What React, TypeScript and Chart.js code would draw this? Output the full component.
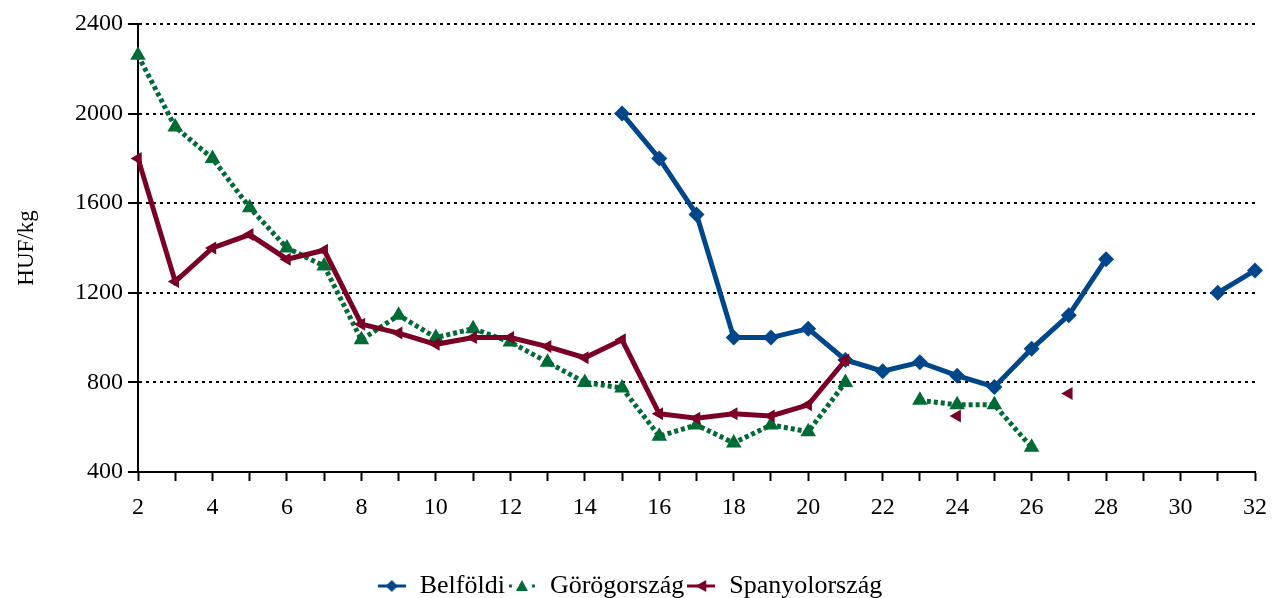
import React, { useEffect, useRef } from "react";
import { Chart, registerables } from "chart.js";

Chart.register(...registerables);

const weeks: string[] = [
  "2", "3", "4", "5", "6", "7", "8", "9", "10", "11", "12", "13", "14", "15", "16", "17",
  "18", "19", "20", "21", "22", "23", "24", "25", "26", "27", "28", "29", "30", "31", "32",
];

const belfoldi: (number | null)[] = [
  null, null, null, null, null, null, null, null, null, null, null, null, null,
  2000, 1800, 1550, 1000, 1000, 1040, 900, 850, 890, 830, 780, 950, 1100, 1350,
  null, null, 1200, 1300,
];

const gorogorszag: (number | null)[] = [
  2260, 1940, 1800, 1580, 1400, 1320, 990, 1100, 1000, 1040, 980, 890, 800, 775,
  560, 610, 530, 610, 580, 800, null, 720, 700, 700, 510,
  null, null, null, null, null, null,
];

const spanyolorszag: (number | null)[] = [
  1800, 1250, 1400, 1460, 1350, 1390, 1060, 1020, 970, 1000, 1000, 960, 910, 990,
  660, 640, 660, 650, 700, 900, null, null, 650, null, null, 750,
  null, null, null, null, null,
];

const yTicks: number[] = [400, 800, 1200, 1600, 2000, 2400];

const seriesNames = ["Belföldi", "Görögország", "Spanyolország"];
const BLUE = "#00468A";
const GREEN = "#006B35";
const RED = "#7A0025";
const FONT = "'Liberation Serif', 'Times New Roman', serif";

function legendIcon(kind: number): HTMLCanvasElement {
  const c = document.createElement("canvas");
  c.width = 28;
  c.height = 18;
  const ctx = c.getContext("2d")!;
  const cy = 9;
  if (kind === 0) {
    ctx.strokeStyle = BLUE;
    ctx.lineWidth = 3;
    ctx.beginPath();
    ctx.moveTo(0, cy);
    ctx.lineTo(28, cy);
    ctx.stroke();
    ctx.fillStyle = BLUE;
    ctx.beginPath();
    ctx.moveTo(14, cy - 6);
    ctx.lineTo(20, cy);
    ctx.lineTo(14, cy + 6);
    ctx.lineTo(8, cy);
    ctx.closePath();
    ctx.fill();
  } else if (kind === 1) {
    ctx.fillStyle = GREEN;
    ctx.fillRect(1, cy - 1.5, 3, 3);
    ctx.fillRect(24, cy - 1.5, 3, 3);
    ctx.beginPath();
    ctx.moveTo(14, cy - 6);
    ctx.lineTo(20, cy + 5);
    ctx.lineTo(8, cy + 5);
    ctx.closePath();
    ctx.fill();
  } else {
    ctx.strokeStyle = RED;
    ctx.lineWidth = 3;
    ctx.beginPath();
    ctx.moveTo(0, cy);
    ctx.lineTo(28, cy);
    ctx.stroke();
    ctx.fillStyle = RED;
    ctx.beginPath();
    ctx.moveTo(8, cy);
    ctx.lineTo(19, cy - 6);
    ctx.lineTo(19, cy + 6);
    ctx.closePath();
    ctx.fill();
  }
  return c;
}

const legendShift = {
  id: "legendShift",
  afterLayout(chart: any) {
    const l = chart.legend;
    if (l) {
      l.top += 11;
      l.bottom += 11;
    }
  },
};

export default function App() {
  const ref = useRef<HTMLCanvasElement | null>(null);

  useEffect(() => {
    if (!ref.current) return;
    Chart.defaults.font.family = FONT;
    Chart.defaults.color = "#000";
    const icons = [legendIcon(0), legendIcon(1), legendIcon(2)];
    const chart = new Chart(ref.current, {
      type: "line",
      plugins: [legendShift],
      data: {
        labels: weeks,
        datasets: [
          {
            label: seriesNames[0],
            data: belfoldi,
            borderColor: BLUE,
            backgroundColor: BLUE,
            borderWidth: 5,
            pointStyle: "rectRot",
            pointRadius: 8,
            pointBorderWidth: 0,
            spanGaps: false,
            order: 3,
          },
          {
            label: seriesNames[1],
            data: gorogorszag,
            borderColor: GREEN,
            backgroundColor: GREEN,
            borderWidth: 5,
            borderDash: [4, 3],
            pointStyle: "triangle",
            pointRadius: 9,
            pointBorderWidth: 0,
            spanGaps: false,
            order: 2,
          },
          {
            label: seriesNames[2],
            data: spanyolorszag,
            borderColor: RED,
            backgroundColor: RED,
            borderWidth: 5,
            pointStyle: "triangle",
            pointRotation: -90,
            pointRadius: 7.5,
            pointBorderWidth: 0,
            spanGaps: false,
            order: 1,
          },
        ],
      },
      options: {
        animation: false,
        responsive: true,
        maintainAspectRatio: false,
        layout: { padding: { top: 24, right: 20, left: 0, bottom: 0 } },
        plugins: {
          tooltip: { enabled: false },
          legend: {
            position: "bottom",
            labels: {
              usePointStyle: true,
              pointStyleWidth: 30,
              padding: 2,
              font: { size: 26, family: FONT },
              color: "#000",
              generateLabels: (ch: any) =>
                ch.data.datasets.map((ds: any, i: number) => ({
                  text: ds.label,
                  pointStyle: icons[i],
                  rotation: 0,
                  fillStyle: ds.borderColor,
                  strokeStyle: ds.borderColor,
                  lineWidth: 0,
                  hidden: false,
                  datasetIndex: i,
                  fontColor: "#000",
                })),
            },
          },
        },
        scales: {
          x: {
            type: "category",
            offset: false,
            grid: {
              drawOnChartArea: false,
              drawTicks: true,
              tickLength: 9,
              tickColor: "#000",
              tickWidth: 2,
            },
            border: { display: true, color: "#000", width: 2 },
            ticks: {
              autoSkip: false,
              maxRotation: 0,
              padding: 12,
              font: { size: 24, family: FONT },
              color: "#000",
              callback: (_v: any, i: number) => (i % 2 === 0 ? weeks[i] : ""),
            },
            afterFit: (s: any) => {
              s.height = 88;
            },
          },
          y: {
            min: 400,
            max: 2400,
            afterBuildTicks: (s: any) => {
              s.ticks = yTicks.map((v) => ({ value: v }));
            },
            grid: {
              color: "#000",
              lineWidth: 2,
              drawTicks: true,
              tickLength: 10,
              tickColor: "#000",
              tickWidth: 2,
              tickBorderDash: [],
            },
            border: { display: true, color: "#000", width: 2, dash: [3, 4] },
            ticks: {
              padding: 5,
              font: { size: 24, family: FONT },
              color: "#000",
              callback: (v: any) => String(v),
            },
            title: {
              display: true,
              text: "HUF/kg",
              font: { size: 23, family: FONT },
              color: "#000",
              padding: { top: 13, bottom: 0 },
            },
            afterFit: (s: any) => {
              s.width = 138;
            },
          },
        },
      },
    });
    return () => chart.destroy();
  }, []);

  return (
    <div style={{ position: "fixed", left: 0, top: 0, width: 1279, height: 598, background: "#fff" }}>
      <canvas ref={ref} />
    </div>
  );
}
